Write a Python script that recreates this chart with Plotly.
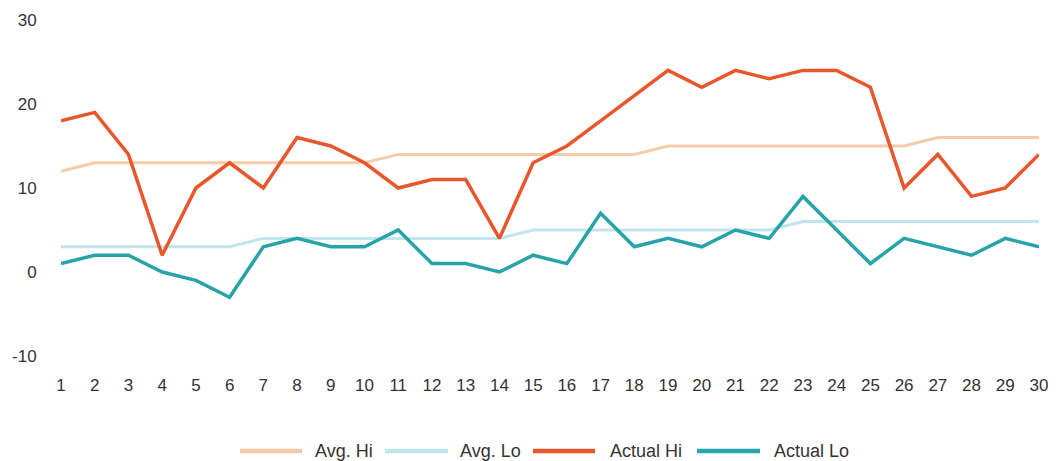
import plotly.graph_objects as go

days = list(range(1, 31))
avg_hi = [12, 13, 13, 13, 13, 13, 13, 13, 13, 13, 14, 14, 14, 14, 14, 14, 14, 14, 15, 15, 15, 15, 15, 15, 15, 15, 16, 16, 16, 16]
avg_lo = [3, 3, 3, 3, 3, 3, 4, 4, 4, 4, 4, 4, 4, 4, 5, 5, 5, 5, 5, 5, 5, 5, 6, 6, 6, 6, 6, 6, 6, 6]
actual_hi = [18, 19, 14, 2, 10, 13, 10, 16, 15, 13, 10, 11, 11, 4, 13, 15, 18, 21, 24, 22, 24, 23, 24, 24, 22, 10, 14, 9, 10, 14]
actual_lo = [1, 2, 2, 0, -1, -3, 3, 4, 3, 3, 5, 1, 1, 0, 2, 1, 7, 3, 4, 3, 5, 4, 9, 5, 1, 4, 3, 2, 4, 3]
y_ticks = [-10, 0, 10, 20, 30]
y_tick_text = ["-10", "0", "10", "20", "30"]

series_names = ["Avg. Hi", "Avg. Lo", "Actual Hi", "Actual Lo"]
series_values = [avg_hi, avg_lo, actual_hi, actual_lo]
series_colors = ["#f8cba8", "#c2e4ec", "#e8572b", "#27a4a8"]
series_widths = [3, 3, 3.5, 3.5]

# figure geometry (page body adds 8px margin)
W, H = 1048, 453
ML, MR, MT, MB = 53, 17, 12, 105
PW, PH = W - ML - MR, H - MT - MB

def px_x(x):
    return (x - ML) / PW

def px_y(y):
    return (H - MB - y) / PH

fig = go.Figure()
for name, vals, color, lw in zip(series_names, series_values, series_colors, series_widths):
    fig.add_trace(go.Scatter(x=days, y=vals, name=name, mode="lines",
                             line=dict(color=color, width=lw), showlegend=False))

# custom legend: long line samples + labels
legend_line_x = [(232, 294), (377, 440), (525, 587), (689, 752)]
legend_text_x = [305, 450, 600, 764]
legend_y = 443
shapes, annotations = [], []
for name, color, (x0, x1), tx in zip(series_names, series_colors, legend_line_x, legend_text_x):
    shapes.append(dict(type="line", xref="paper", yref="paper",
                       x0=px_x(x0), x1=px_x(x1), y0=px_y(legend_y), y1=px_y(legend_y),
                       line=dict(color=color, width=4.5)))
    annotations.append(dict(text=name, xref="paper", yref="paper", x=px_x(tx), y=px_y(legend_y),
                            xanchor="left", yanchor="middle", showarrow=False,
                            font=dict(size=18, color="#333333")))

fig.update_layout(
    width=W, height=H,
    margin=dict(l=ML, r=MR, t=MT, b=MB),
    paper_bgcolor="white", plot_bgcolor="white",
    font=dict(family="Liberation Sans, Arial, sans-serif", size=17, color="#333333"),
    showlegend=False,
    shapes=shapes, annotations=annotations,
    xaxis=dict(range=[1, 30], tickmode="array", tickvals=days, ticktext=[str(d) for d in days],
               showgrid=False, zeroline=False, showline=False, automargin=False,
               ticks="outside", ticklen=14, tickcolor="rgba(0,0,0,0)"),
    yaxis=dict(range=[-10, 30], tickmode="array", tickvals=y_ticks, ticktext=y_tick_text,
               showgrid=False, zeroline=False, showline=False, automargin=False,
               ticks="outside", ticklen=20, tickcolor="rgba(0,0,0,0)"),
)

fig.write_html("out.html")
